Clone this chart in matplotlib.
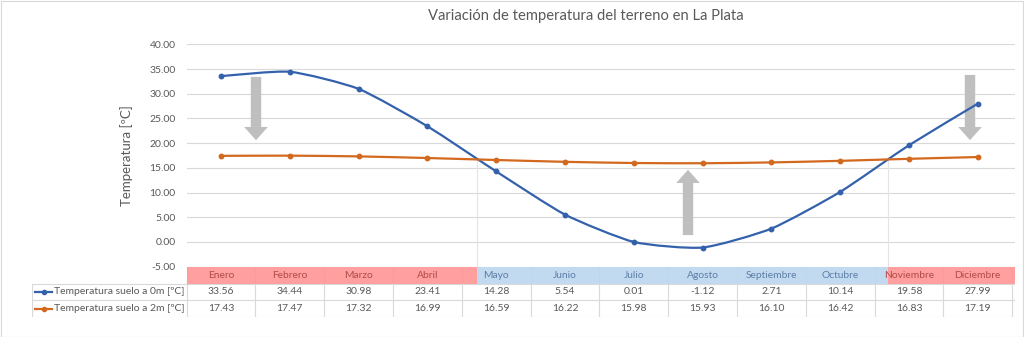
import matplotlib
matplotlib.use("Agg")
import matplotlib.pyplot as plt
from matplotlib.path import Path
from matplotlib.patches import PathPatch, Rectangle, FancyArrowPatch
import numpy as np

plt.rcParams['font.family'] = ['Lato', 'DejaVu Sans']

months = ["Enero", "Febrero", "Marzo", "Abril", "Mayo", "Junio", "Julio",
          "Agosto", "Septiembre", "Octubre", "Noviembre", "Diciembre"]
t0m = [33.56, 34.44, 30.98, 23.41, 14.28, 5.54, 0.01, -1.12, 2.71, 10.14, 19.58, 27.99]
t2m = [17.43, 17.47, 17.32, 16.99, 16.59, 16.22, 15.98, 15.93, 16.10, 16.42, 16.83, 17.19]
series_labels = ["Temperatura suelo a 0m [ºC]", "Temperatura suelo a 2m [ºC]"]
yticks = [-5, 0, 5, 10, 15, 20, 25, 30, 35, 40]

BLUE = '#3461AC'
ORANGE = '#D2691E'
TXT = '#595959'
GRID = '#D9D9D9'
RED_BAND = '#FF9797'
BLUE_BAND = '#BDD7EE'

W, H = 1024, 337
fig = plt.figure(figsize=(W / 100, H / 100), dpi=100)

x0px, step = 186.6, 68.8
def px2x(px):
    return (px - x0px) / step - 0.5

right_px = 1015
ax = fig.add_axes([x0px / W, 1 - 266.7 / H, (right_px - x0px) / W, (266.7 - 44.3) / H])
ax.set_xlim(-0.5, px2x(right_px))
ax.set_ylim(-5, 40)
for s in ax.spines.values():
    s.set_visible(False)
ax.set_xticks([])
ax.set_yticks(yticks)
ax.set_yticklabels([f"{v:.2f}" for v in yticks], fontsize=7.5, color=TXT)
ax.tick_params(axis='y', length=0, pad=8)
for v in yticks:
    ax.axhline(v, color=GRID, lw=0.8, zorder=0)
ax.set_ylabel("Temperatura [ºC]", fontsize=9.5, color=TXT, labelpad=12)

# vertical separators
for xs in (px2x(477), px2x(888)):
    ax.plot([xs, xs], [-5, 16.7], color='#E4E4E4', lw=0.8, zorder=0)

def smooth_path(xs, ys, k=0.1):
    pts = np.column_stack([xs, ys]).astype(float)
    verts = [pts[0]]
    codes = [Path.MOVETO]
    n = len(pts)
    for i in range(n - 1):
        p0 = pts[i - 1] if i > 0 else pts[i]
        p1 = pts[i]
        p2 = pts[i + 1]
        p3 = pts[i + 2] if i + 2 < n else pts[i + 1]
        c1 = p1 + (p2 - p0) * k
        c2 = p2 - (p3 - p1) * k
        verts += [c1, c2, p2]
        codes += [Path.CURVE4] * 3
    return Path(verts, codes)

xs = np.arange(len(months))
for vals, col in ((t0m, BLUE), (t2m, ORANGE)):
    ax.add_patch(PathPatch(smooth_path(xs, vals), facecolor='none', edgecolor=col, lw=1.6, zorder=3))
    ax.plot(xs, vals, ls='none', marker='o', ms=3.2, color=col, zorder=4)

# gray block arrows
arrow_style = "simple,head_length=9.5,head_width=17,tail_width=7.5"
for (xa, y_from, y_to) in ((px2x(256), 33.4, 20.6), (px2x(970), 33.8, 20.6), (px2x(688), 1.4, 14.6)):
    ax.add_patch(FancyArrowPatch((xa, y_from), (xa, y_to), arrowstyle=arrow_style,
                                 mutation_scale=1, color='#BFBFBF', lw=0, shrinkA=0, shrinkB=0, zorder=2))

fig.text(586 / W, 1 - 16 / H, "Variación de temperatura del terreno en La Plata",
         ha='center', va='center', fontsize=10.6, color=TXT)

# data table
tax = fig.add_axes([32 / W, 1 - 317 / H, (right_px - 32) / W, (317 - 267) / H])
tax.set_xlim(px2x(32), px2x(right_px))
tax.set_ylim(50, 0)
tax.axis('off')
xl = px2x(32)
xr = px2x(right_px)
rows = [(17, 33), (33, 50)]
tax.plot([xl, xr], [17, 17], color=GRID, lw=0.8)
tax.plot([xl, xr], [33, 33], color=GRID, lw=0.8)
tax.plot([xl, xr], [50, 50], color=GRID, lw=0.8)
tax.plot([xl, xl], [17, 50], color=GRID, lw=0.8)
for k in range(len(months) + 1):
    xb = k - 0.5
    tax.plot([xb, xb], [0, 50], color=GRID, lw=0.8, zorder=1)
bands = [(-0.5, px2x(477), RED_BAND), (px2x(477), px2x(888), BLUE_BAND), (px2x(888), xr, RED_BAND)]
for a, b, c in bands:
    tax.add_patch(Rectangle((a, 0), b - a, 17, facecolor=c, edgecolor='none', alpha=0.92, zorder=2))
for i, m in enumerate(months):
    col = '#5D7DA8' if 4 <= i <= 9 else '#B24A4A'
    tax.text(i, 8.5, m, ha='center', va='center', fontsize=7.4, color=col, zorder=3)
for r, (vals, col, lab) in enumerate(((t0m, BLUE, series_labels[0]), (t2m, ORANGE, series_labels[1]))):
    y0, y1 = rows[r]
    yc = (y0 + y1) / 2
    for i, v in enumerate(vals):
        tax.text(i, yc, f"{v:.2f}", ha='center', va='center', fontsize=7.5, color=TXT)
    tax.plot([px2x(35), px2x(52)], [yc, yc], color=col, lw=1.6)
    tax.plot([px2x(43.5)], [yc], marker='o', ms=3, color=col)
    tax.text(px2x(54), yc, lab, ha='left', va='center', fontsize=7.5, color=TXT)

fig.add_artist(Rectangle((0.5 / W, 0.5 / H), 1 - 1.5 / W, 1 - 1.5 / H, transform=fig.transFigure,
                         facecolor='none', edgecolor=GRID, lw=0.8))

fig.savefig("out.png", dpi=100)
